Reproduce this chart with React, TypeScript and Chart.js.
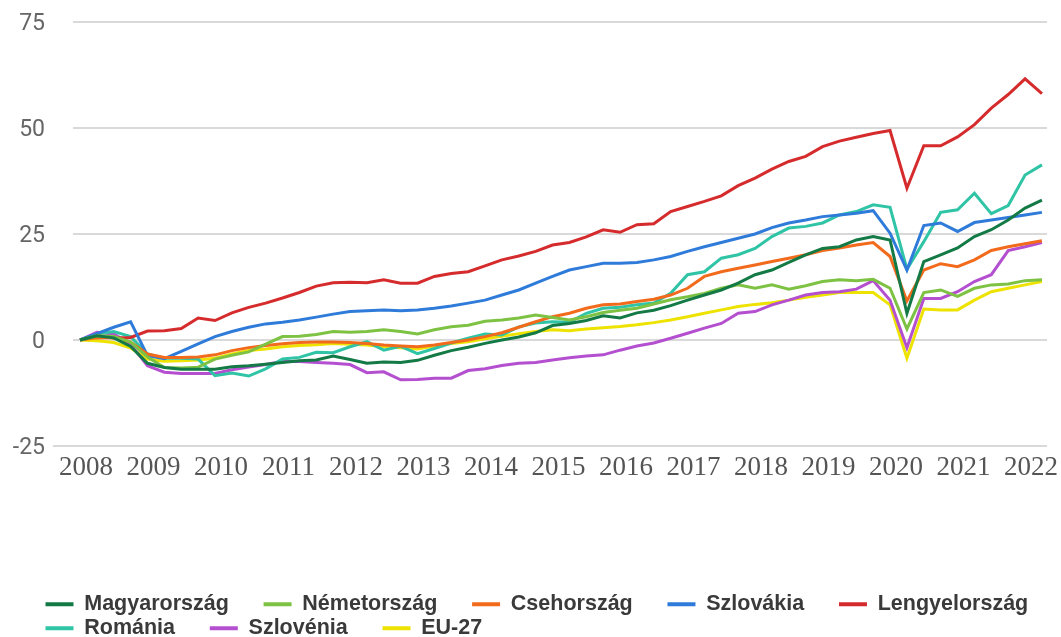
import React, { useEffect, useRef } from "react";
import { Chart, registerables } from "chart.js";

Chart.register(...registerables);

const quarters = [
  "2008 Q1", "2008 Q2", "2008 Q3", "2008 Q4", "2009 Q1", "2009 Q2", "2009 Q3", "2009 Q4",
  "2010 Q1", "2010 Q2", "2010 Q3", "2010 Q4", "2011 Q1", "2011 Q2", "2011 Q3", "2011 Q4",
  "2012 Q1", "2012 Q2", "2012 Q3", "2012 Q4", "2013 Q1", "2013 Q2", "2013 Q3", "2013 Q4",
  "2014 Q1", "2014 Q2", "2014 Q3", "2014 Q4", "2015 Q1", "2015 Q2", "2015 Q3", "2015 Q4",
  "2016 Q1", "2016 Q2", "2016 Q3", "2016 Q4", "2017 Q1", "2017 Q2", "2017 Q3", "2017 Q4",
  "2018 Q1", "2018 Q2", "2018 Q3", "2018 Q4", "2019 Q1", "2019 Q2", "2019 Q3", "2019 Q4",
  "2020 Q1", "2020 Q2", "2020 Q3", "2020 Q4", "2021 Q1", "2021 Q2", "2021 Q3", "2021 Q4",
  "2022 Q1", "2022 Q2",
];

const yearLabels = [
  "2008", "2009", "2010", "2011", "2012", "2013", "2014", "2015",
  "2016", "2017", "2018", "2019", "2020", "2021", "2022",
];
const yearTickIndex = [0, 4, 8, 12, 16, 20, 24, 28, 32, 36, 40, 44, 48, 52, 56];
const yTicks = [-25, 0, 25, 50, 75];

const magyarorszag = [
  0, 1.0, 0.5, -1.5, -5.5, -6.5, -6.9, -6.9, -6.9, -6.3, -6.1, -5.7, -5.3, -4.9, -4.7, -3.8,
  -4.6, -5.5, -5.2, -5.3, -4.8, -3.6, -2.5, -1.7, -0.8, 0, 0.7, 1.7, 3.4, 3.9, 4.6, 5.7,
  5.2, 6.4, 7.0, 8.1, 9.4, 10.6, 11.8, 13.4, 15.4, 16.5, 18.3, 20.1, 21.6, 22.0, 23.6, 24.4,
  23.6, 6.3, 18.5, 20.1, 21.7, 24.4, 26.0, 28.3, 31.1, 33.0,
];
const nemetorszag = [
  0, 1.0, 0.8, -0.5, -4.0, -6.5, -6.6, -6.4, -4.5, -3.6, -2.8, -1.0, 0.8, 0.9, 1.3, 2.0,
  1.8, 2.0, 2.4, 2.0, 1.4, 2.4, 3.1, 3.5, 4.4, 4.7, 5.2, 5.9, 5.3, 4.7, 5.5, 6.5,
  7.0, 7.5, 8.5, 9.5, 10.2, 11.0, 12.2, 13.0, 12.2, 13.0, 12.0, 12.8, 13.8, 14.2, 14.0, 14.3,
  12.2, 2.6, 11.2, 11.8, 10.3, 12.2, 13.0, 13.2, 14.0, 14.2,
];
const csehorszag = [
  0, 0.5, 0.6, -0.5, -3.3, -4.1, -4.1, -4.0, -3.5, -2.5, -1.8, -1.3, -0.9, -0.6, -0.5, -0.5,
  -0.6, -0.8, -1.2, -1.4, -1.6, -1.2, -0.6, 0, 0.8, 1.7, 3.0, 4.3, 5.5, 6.3, 7.5, 8.3,
  8.5, 9.1, 9.6, 10.6, 12.2, 15.0, 16.1, 16.9, 17.7, 18.5, 19.3, 20.1, 21.1, 21.7, 22.4, 23.0,
  19.7, 9.2, 16.5, 18.0, 17.3, 18.9, 21.1, 22.0, 22.7, 23.4,
];
const szlovakia = [
  0, 1.5, 3.0, 4.3, -3.7, -4.4, -2.7, -0.9, 0.8, 2.0, 3.0, 3.8, 4.2, 4.7, 5.4, 6.1,
  6.7, 6.9, 7.1, 6.9, 7.1, 7.5, 8.0, 8.7, 9.4, 10.6, 11.8, 13.4, 15.0, 16.5, 17.3, 18.1,
  18.1, 18.3, 18.9, 19.7, 20.9, 22.0, 23.0, 24.0, 25.0, 26.5, 27.6, 28.3, 29.1, 29.5, 29.9, 30.5,
  25.2, 16.5, 27.0, 27.6, 25.6, 27.7, 28.3, 28.9, 29.5, 30.1,
];
const lengyelorszag = [
  0, 1.0, 0.5, 0.6, 2.1, 2.2, 2.7, 5.2, 4.6, 6.4, 7.7, 8.7, 9.9, 11.2, 12.7, 13.5,
  13.6, 13.5, 14.2, 13.4, 13.4, 15.0, 15.7, 16.1, 17.5, 18.9, 19.8, 20.9, 22.4, 23.0, 24.3, 26.0,
  25.4, 27.2, 27.4, 30.3, 31.5, 32.7, 34.0, 36.4, 38.2, 40.3, 42.1, 43.3, 45.6, 46.9, 47.8, 48.7,
  49.4, 35.8, 45.8, 45.8, 47.9, 50.8, 54.7, 57.9, 61.6, 58.1,
];
const romania = [
  0, 1.4, 2.0, 0.8, -3.3, -4.3, -4.3, -4.5, -8.4, -7.8, -8.5, -6.8, -4.5, -4.1, -2.9, -3.0,
  -1.6, -0.4, -2.4, -1.5, -3.2, -2.0, -0.7, 0.4, 1.4, 1.2, 3.1, 4.0, 4.3, 4.2, 6.3, 7.5,
  7.7, 8.3, 8.7, 11.0, 15.4, 16.1, 19.3, 20.1, 21.6, 24.4, 26.4, 26.8, 27.6, 29.5, 30.3, 31.9,
  31.3, 16.7, 23.2, 30.1, 30.7, 34.6, 29.8, 31.7, 38.9, 41.3,
];
const szlovenia = [
  0, 1.8, 1.4, -1.0, -6.1, -7.6, -7.9, -7.9, -7.9, -7.0, -6.4, -5.8, -5.0, -5.1, -5.3, -5.5,
  -5.8, -7.7, -7.5, -9.4, -9.3, -9.0, -9.0, -7.2, -6.8, -6.0, -5.5, -5.3, -4.7, -4.2, -3.8, -3.5,
  -2.4, -1.4, -0.7, 0.4, 1.6, 2.8, 3.9, 6.3, 6.7, 8.3, 9.4, 10.6, 11.2, 11.4, 12.0, 14.0,
  9.4, -1.8, 9.8, 9.8, 11.4, 13.8, 15.4, 21.1, 22.0, 23.0,
];
const eu27 = [
  0, -0.2, -0.6, -1.9, -4.5, -5.0, -4.9, -4.7, -4.3, -3.3, -2.5, -2.1, -1.6, -1.3, -1.1, -0.8,
  -1.0, -1.2, -1.6, -1.8, -2.1, -1.4, -0.8, -0.4, 0.3, 0.9, 1.5, 2.0, 2.4, 2.2, 2.6, 2.9,
  3.2, 3.6, 4.1, 4.7, 5.5, 6.3, 7.1, 7.9, 8.4, 8.8, 9.4, 10.1, 10.6, 11.2, 11.2, 11.2,
  8.3, -4.3, 7.3, 7.1, 7.1, 9.4, 11.4, 12.2, 13.0, 13.8,
];

const seriesNames = [
  "Magyarország", "Németország", "Csehország", "Szlovákia",
  "Lengyelország", "Románia", "Szlovénia", "EU-27",
];
const seriesValues = [
  magyarorszag, nemetorszag, csehorszag, szlovakia,
  lengyelorszag, romania, szlovenia, eu27,
];
const seriesColors = [
  "#137a46", "#7ec243", "#f26b1c", "#2f7bd9",
  "#d52b2c", "#2fc4a5", "#b44fd0", "#eee300",
];
// legend items that end a legend row (no extra spacing after them)
const rowEnd = [false, false, false, false, true, false, false, true];

const legendShift = {
  id: "legendShift",
  afterLayout(chart: any) {
    if (chart.legend) chart.legend.left = 43;
  },
};

export default function App() {
  const ref = useRef<HTMLCanvasElement | null>(null);

  useEffect(() => {
    if (!ref.current) return;
    const datasets = seriesNames.map((name, si) => ({
      label: name,
      data: seriesValues[si].map((v, i) => ({ x: i, y: v })),
      borderColor: seriesColors[si],
      backgroundColor: seriesColors[si],
      borderWidth: 3,
      pointRadius: 0,
      tension: 0,
      fill: false,
    }));

    const chart = new Chart(ref.current, {
      type: "line",
      data: { datasets },
      plugins: [legendShift],
      options: {
        animation: false,
        responsive: false,
        devicePixelRatio: 1,
        layout: { padding: { top: 22, left: 0, right: 14, bottom: -12 } },
        plugins: {
          tooltip: {
            callbacks: {
              title: (items: any) => quarters[items[0].parsed.x] ?? "",
            },
          },
          legend: {
            position: "bottom",
            align: "start",
            labels: {
              boxWidth: 28,
              boxHeight: 4,
              padding: 2.5,
              color: "#3a3a3a",
              font: { family: "Liberation Sans", size: 21.5, weight: "bold" },
              generateLabels: (c: any) =>
                c.data.datasets.map((ds: any, i: number) => ({
                  text: ds.label + (rowEnd[i] ? "" : "\u2003\u2002"),
                  fillStyle: ds.borderColor,
                  strokeStyle: ds.borderColor,
                  lineWidth: 0,
                  hidden: false,
                  datasetIndex: i,
                  fontColor: "#3a3a3a",
                })),
            },
          },
        },
        scales: {
          x: {
            type: "linear",
            min: -0.415,
            max: 57.3,
            grid: { display: false, drawTicks: false },
            border: { display: false },
            afterBuildTicks: (axis: any) => {
              axis.ticks = yearTickIndex.map((v) => ({ value: v }));
            },
            afterFit: (axis: any) => {
              axis.height = 145;
            },
            ticks: {
              autoSkip: false,
              maxRotation: 0,
              padding: 6,
              labelOffset: 6,
              color: "#555555",
              font: { family: "Liberation Serif", size: 27 },
              callback: (_v: any, index: number) => yearLabels[index],
            },
          },
          y: {
            min: -25,
            max: 75,
            afterBuildTicks: (axis: any) => {
              axis.ticks = yTicks.map((v) => ({ value: v }));
            },
            afterFit: (axis: any) => {
              axis.width = 73;
            },
            border: { display: false },
            grid: {
              color: "#d9d9d9",
              lineWidth: 2,
              drawTicks: true,
              tickLength: 20,
              tickColor: (ctx: any) =>
                ctx.tick && ctx.tick.value === -25 ? "#d9d9d9" : "rgba(0,0,0,0)",
            },
            ticks: {
              padding: 8,
              labelOffset: 2,
              color: "#666666",
              font: { family: "Roboto", size: 23 },
              callback: (v: any) => String(v),
            },
          },
        },
      },
    });
    return () => chart.destroy();
  }, []);

  return (
    <div
      style={{
        position: "fixed",
        left: 0,
        top: 0,
        width: 1061,
        height: 637,
        background: "#ffffff",
        overflow: "hidden",
      }}
    >
      <canvas ref={ref} width={1061} height={637} style={{ display: "block" }} />
    </div>
  );
}
